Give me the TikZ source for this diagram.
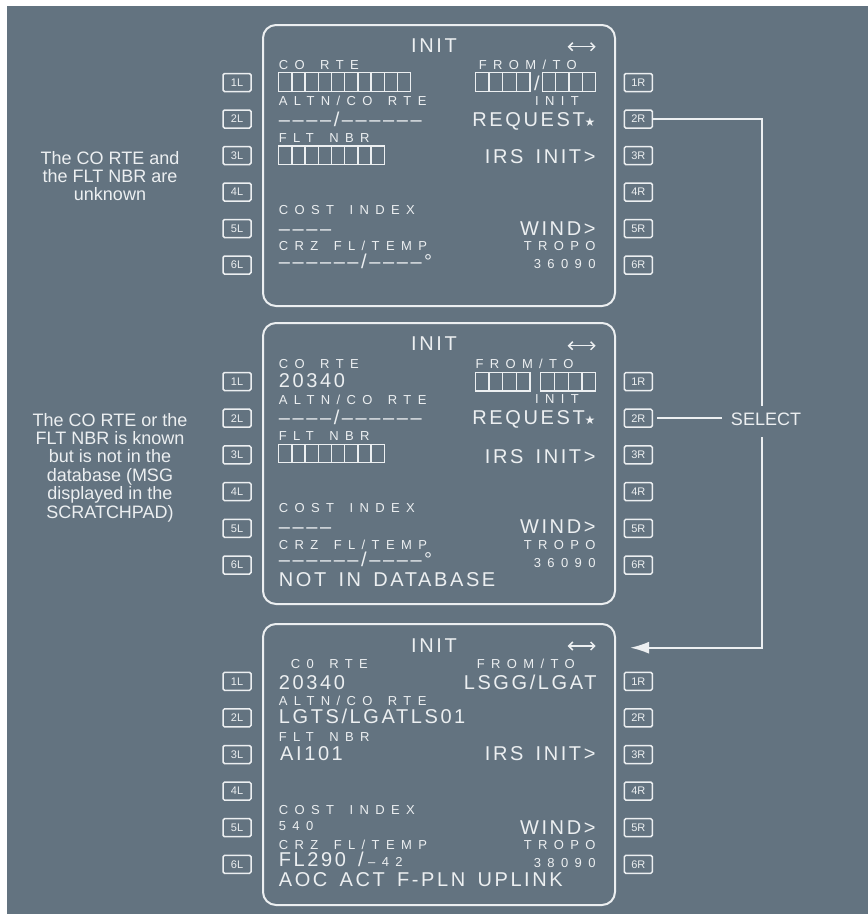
\documentclass[tikz,border=0pt]{standalone}
\usepackage{fontspec}
\setmainfont{Liberation Sans}
\newfontfamily\lblfont[LetterSpace=49,WordSpace=1.55]{Liberation Sans}
\newfontfamily\valfont[LetterSpace=13,WordSpace=1.5]{Liberation Sans}
\newfontfamily\symfont{DejaVu Sans}
\usetikzlibrary{arrows.meta}
\definecolor{panel}{RGB}{99,115,128}
\definecolor{ink}{RGB}{236,239,241}

\begin{document}
\begin{tikzpicture}[x=1pt, y=-1pt, font=\fontsize{18}{18.4}\selectfont,
  screen/.style={draw=ink, line width=2pt, rounded corners=13pt, minimum width=352pt,
    minimum height=281pt, anchor=north west, inner sep=0pt},
  lsk/.style={draw=ink, text=ink, line width=1.5pt, rounded corners=1.5pt, minimum width=28pt,
    minimum height=18pt, inner sep=0pt, font=\fontsize{11}{11}\selectfont},
  lbl/.style={text=ink, inner sep=0pt, anchor=base west, font=\lblfont\fontsize{13}{13}\selectfont},
  val/.style={text=ink, inner sep=0pt, anchor=base west, font=\valfont\fontsize{20}{20}\selectfont},
  cell/.style={draw=ink, line width=1.3pt},
  slew/.style={draw=ink, line width=1.5pt, {Straight Barb[length=4pt,width=8pt]}-{Straight Barb[length=4pt,width=8pt]}},
  link/.style={draw=ink, line width=2pt},
  note/.style={text=ink, align=center, inner sep=0pt}]
  \fill[white] (0,0) rectangle (868,914);
  \fill[panel] (7,6) rectangle (868,914);
  \useasboundingbox (0,0) rectangle (868,914);

  % first page: nothing known yet
  \begin{scope}[shift={(262,24)}, name prefix=s1-]
    \node[screen] (frame) at (0,0) {};
    \foreach \i in {1,...,6} {
      \node[lsk] (\i L) at (-25,{58.5+36.5*(\i-1)}) {\i L};
      \node[lsk] (\i R) at (376.3,{58.5+36.5*(\i-1)}) {\i R};
    }
    \node[val, anchor=base] (title) at (172,28.7) {INIT};
    \draw[slew] (305.7,22.7) -- (333.7,22.7);
    \node[lbl] (corte) at (16.7,45.5) {CO RTE};
    \foreach \k in {0,...,9} \draw[cell] ({16.7+13.2*\k},48.7) rectangle ++(13.2,19);
    \node[lbl] (fromto) at (216.7,45.5) {FROM/TO};
    \foreach \k in {0,...,3} {
      \draw[cell] ({213.3+13.7*\k},48.7) rectangle ++(13.7,19);
      \draw[cell] ({280.3+13.35*\k},48.7) rectangle ++(13.35,19);
    }
    \node[val, anchor=base] (slash) at (275,66) {/};
    \node[lbl] (altn) at (16.7,81.7) {ALTN/CO RTE};
    \node[val] (altnval) at (16.7,102.3) {––––/––––––};
    \node[lbl] (initlbl) at (273,81.7) {INIT};
    \node[val, anchor=base east] (request) at (333.7,102.3) {REQUEST{\symfont\fontsize{12}{12}\selectfont ★}};
    \node[lbl] (flt) at (16.7,118) {FLT NBR};
    \foreach \k in {0,...,7} \draw[cell] ({16.7+13.2*\k},122) rectangle ++(13.2,18.5);
    \node[val, anchor=base east] (irs) at (333.7,139.5) {IRS INIT>};
    \node[lbl] (cost) at (16.7,190) {COST INDEX};
    \node[val] (costval) at (16.7,211) {––––};
    \node[val, anchor=base east] (wind) at (333.7,211) {WIND>};
    \node[lbl] (crz) at (16.7,226.5) {CRZ FL/TEMP};
    \node[val] (crzval) at (16.7,244) {––––––/––––°};
    \node[lbl, anchor=base east] (tropo) at (333.7,226.5) {TROPO};
    \node[lbl, anchor=base east] (tropoval) at (333.7,244) {36090};
  \end{scope}

  % second page: CO RTE not in database
  \begin{scope}[shift={(262,322)}, name prefix=s2-]
    \node[screen] (frame) at (0,0) {};
    \foreach \i in {1,...,6} {
      \node[lsk] (\i L) at (-25,{59.5+36.7*(\i-1)}) {\i L};
      \node[lsk] (\i R) at (376.3,{59.5+36.7*(\i-1)}) {\i R};
    }
    \node[val, anchor=base] (title) at (172,28.7) {INIT};
    \draw[slew] (305.7,23.7) -- (333.7,23.7);
    \node[lbl] (corte) at (16.7,46.3) {CO RTE};
    \node[val] (corteval) at (16.7,65.7) {20340};
    \node[lbl] (fromto) at (213.3,46.3) {FROM/TO};
    \foreach \k in {0,...,3} {
      \draw[cell] ({213.3+13.7*\k},50.3) rectangle ++(13.7,18.7);
      \draw[cell] ({278.7+13.75*\k},50.3) rectangle ++(13.75,18.7);
    }
    \node[lbl] (altn) at (16.7,82.3) {ALTN/CO RTE};
    \node[val] (altnval) at (16.7,102.5) {––––/––––––};
    \node[lbl] (initlbl) at (273,81.5) {INIT};
    \node[val, anchor=base east] (request) at (333.7,102.3) {REQUEST{\symfont\fontsize{12}{12}\selectfont ★}};
    \node[lbl] (flt) at (16.7,118) {FLT NBR};
    \foreach \k in {0,...,7} \draw[cell] ({16.7+13.2*\k},122.3) rectangle ++(13.2,18);
    \node[val, anchor=base east] (irs) at (333.7,141.3) {IRS INIT>};
    \node[lbl] (cost) at (16.7,190.3) {COST INDEX};
    \node[val] (costval) at (16.7,211) {––––};
    \node[val, anchor=base east] (wind) at (333.7,211.3) {WIND>};
    \node[lbl] (crz) at (16.7,227.3) {CRZ FL/TEMP};
    \node[val] (crzval) at (16.7,244.5) {––––––/––––°};
    \node[lbl, anchor=base east] (tropo) at (333.7,227.3) {TROPO};
    \node[lbl, anchor=base east] (tropoval) at (333.7,245.3) {36090};
    \node[val] (scratch) at (16.7,264.7) {NOT IN DATABASE};
  \end{scope}

  % third page: after the uplink
  \begin{scope}[shift={(262,623)}, name prefix=s3-]
    \node[screen] (frame) at (0,0) {};
    \foreach \i in {1,...,6} {
      \node[lsk] (\i L) at (-25,{58.3+36.6*(\i-1)}) {\i L};
      \node[lsk] (\i R) at (376.3,{58.3+36.6*(\i-1)}) {\i R};
    }
    \node[val, anchor=base] (title) at (172,29.5) {INIT};
    \draw[slew] (305.7,23) -- (333.7,23);
    \node[lbl] (corte) at (28.7,45.3) {C0 RTE};
    \node[val] (corteval) at (16.7,66.3) {20340};
    \node[lbl] (fromto) at (214.7,45.3) {FROM/TO};
    \node[val, anchor=base east] (fromtoval) at (334.7,66.3) {LSGG/LGAT};
    \node[lbl] (altn) at (16.7,82) {ALTN/CO RTE};
    \node[val] (altnval) at (16.7,100.3) {LGTS/LGATLS01};
    \node[lbl] (flt) at (16.7,118.7) {FLT NBR};
    \node[val] (fltval) at (18,137) {AI101};
    \node[val, anchor=base east] (irs) at (333.7,137.7) {IRS INIT>};
    \node[lbl] (cost) at (16.7,191) {COST INDEX};
    \node[lbl] (costval) at (16.7,207.7) {540};
    \node[val, anchor=base east] (wind) at (333.7,211) {WIND>};
    \node[lbl] (crz) at (16.7,226.3) {CRZ FL/TEMP};
    \node[val] (crzval) at (16.7,243.7) {FL290 /\hspace{4.4pt}{\lblfont\fontsize{13}{13}\selectfont –42}};
    \node[lbl, anchor=base east] (tropo) at (333.7,226.3) {TROPO};
    \node[lbl, anchor=base east] (tropoval) at (333.7,244.3) {38090};
    \node[val] (scratch) at (16.7,263.7) {AOC ACT F-PLN UPLINK};
  \end{scope}

  \node[note] (unknown) at (110,176) {The CO RTE and\\the FLT NBR are\\unknown};
  \node[note] (notindb) at (110,467.5) {The CO RTE or the\\FLT NBR is known\\but is not in the\\database (MSG\\displayed in the\\SCRATCHPAD)};

  \coordinate (tip) at (630,647.7);
  \draw[link, -{Latex[length=19pt,width=12pt]}] (s1-2R.east) -- ++(108.7,0) |- (tip);
  \node[note, fill=panel, anchor=base, inner xsep=9pt, inner ysep=6pt, text depth=5.5pt] (select) at (766,425) {SELECT};
  \draw[link, shorten <=4pt] (s2-2R.east) -- (s2-2R.east -| select.west);
\end{tikzpicture}
\end{document}
